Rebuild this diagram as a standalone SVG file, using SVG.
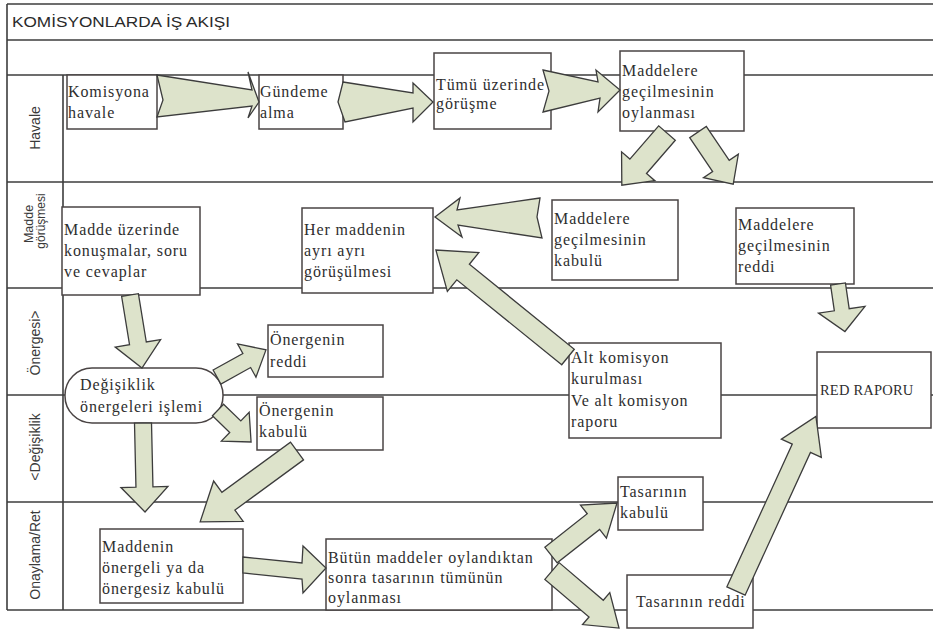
<svg xmlns="http://www.w3.org/2000/svg" width="933" height="633" viewBox="0 0 933 633">
<style>
.ln{stroke:#3d3d3d;stroke-width:1.6;fill:none}
.bx{fill:#fff;stroke:#4a4444;stroke-width:1.5}
.t{font-family:"Liberation Serif","Times New Roman",serif;font-size:16px;letter-spacing:0.9px;fill:#2e2e2e}
.lab{font-family:"Liberation Sans",Arial,sans-serif;font-size:14px;fill:#3a3a3a;text-anchor:middle}
.ar{fill:#dde3cb;stroke:#3c3c3c;stroke-width:1.3;stroke-linejoin:miter}
</style>
<rect width="933" height="633" fill="#fff"/>
<g id="lanes">
<line class="ln" x1="7" y1="4" x2="933" y2="4"/>
<line class="ln" x1="7" y1="40" x2="933" y2="40"/>
<line class="ln" x1="7" y1="75" x2="933" y2="75"/>
<line class="ln" x1="7" y1="182" x2="933" y2="182"/>
<line class="ln" x1="7" y1="288" x2="933" y2="288"/>
<line class="ln" x1="7" y1="395" x2="933" y2="395"/>
<line class="ln" x1="7" y1="502" x2="933" y2="502"/>
<line class="ln" x1="7" y1="610" x2="933" y2="610"/>
<line class="ln" x1="7" y1="4" x2="7" y2="610"/>
<line class="ln" x1="63" y1="75" x2="63" y2="610"/>
<text x="12" y="27" font-family="Liberation Sans, Arial, sans-serif" font-size="14" fill="#2a2a2a" textLength="218" lengthAdjust="spacingAndGlyphs">KOMİSYONLARDA İŞ AKIŞI</text>
<text class="lab" transform="translate(40,128) rotate(-90)">Havale</text>
<text class="lab" transform="translate(33,224) rotate(-90)" style="font-size:12.5px">Madde</text>
<text class="lab" transform="translate(45,221) rotate(-90)" style="font-size:12px">görüşmesi</text>
<text class="lab" transform="translate(40,343) rotate(-90)">Önergesi&gt;</text>
<text class="lab" transform="translate(40,447) rotate(-90)">&lt;Değişiklik</text>
<text class="lab" transform="translate(40,555) rotate(-90)">Onaylama/Ret</text>
</g>
<g id="n1"><rect class="bx" x="67" y="75" width="90" height="54"/><text class="t" x="68" y="97">Komisyona</text><text class="t" x="68" y="118">havale</text></g>
<g id="n2"><rect class="bx" x="259" y="75" width="84" height="54"/><text class="t" x="260" y="97">Gündeme</text><text class="t" x="260" y="118">alma</text></g>
<g id="n3"><rect class="bx" x="434" y="53" width="117" height="76"/><text class="t" x="436" y="90">Tümü üzerinde</text><text class="t" x="436" y="109">görüşme</text></g>
<g id="n4"><rect class="bx" x="620" y="51" width="124" height="80"/><text class="t" x="622" y="76">Maddelere</text><text class="t" x="622" y="97">geçilmesinin</text><text class="t" x="622" y="118">oylanması</text></g>
<g id="n5"><rect class="bx" x="62" y="207" width="138" height="88"/><text class="t" x="64" y="235">Madde üzerinde</text><text class="t" x="64" y="256">konuşmalar, soru</text><text class="t" x="64" y="277">ve cevaplar</text></g>
<g id="n6"><rect class="bx" x="302" y="208" width="131" height="85"/><text class="t" x="304" y="235">Her maddenin</text><text class="t" x="304" y="256">ayrı ayrı</text><text class="t" x="304" y="277">görüşülmesi</text></g>
<g id="n7"><rect class="bx" x="552" y="200" width="126" height="80"/><text class="t" x="554" y="224">Maddelere</text><text class="t" x="554" y="245">geçilmesinin</text><text class="t" x="554" y="266">kabulü</text></g>
<g id="n8"><rect class="bx" x="736" y="208" width="118" height="76"/><text class="t" x="738" y="230">Maddelere</text><text class="t" x="738" y="251">geçilmesinin</text><text class="t" x="738" y="272">reddi</text></g>
<g id="n9"><rect class="bx" x="268" y="325" width="115" height="52"/><text class="t" x="270" y="345">Önergenin</text><text class="t" x="270" y="367">reddi</text></g>
<g id="n10"><rect class="bx" x="65" y="368" width="158" height="55" rx="27" ry="27"/><text class="t" x="80" y="390">Değişiklik</text><text class="t" x="80" y="412">önergeleri işlemi</text></g>
<g id="n11"><rect class="bx" x="257" y="397" width="126" height="53"/><text class="t" x="259" y="416">Önergenin</text><text class="t" x="259" y="437">kabulü</text></g>
<g id="n12"><rect class="bx" x="569" y="343" width="152" height="95"/><text class="t" x="571" y="363">Alt komisyon</text><text class="t" x="571" y="384">kurulması</text><text class="t" x="571" y="406">Ve alt komisyon</text><text class="t" x="571" y="427">raporu</text></g>
<g id="n13"><rect class="bx" x="817" y="352" width="114" height="76"/><text class="t" x="820" y="395" style="font-size:14.5px;letter-spacing:0.2px">RED RAPORU</text></g>
<g id="n14"><rect class="bx" x="100" y="529" width="143" height="74"/><text class="t" x="102" y="552">Maddenin</text><text class="t" x="102" y="573">önergeli ya da</text><text class="t" x="102" y="594">önergesiz kabulü</text></g>
<g id="n15"><rect class="bx" x="326" y="539" width="226" height="71"/><text class="t" x="328" y="563">Bütün maddeler oylandıktan</text><text class="t" x="328" y="583">sonra tasarının tümünün</text><text class="t" x="328" y="603">oylanması</text></g>
<g id="n16"><rect class="bx" x="618" y="477" width="85" height="53"/><text class="t" x="620" y="497">Tasarının</text><text class="t" x="620" y="518">kabulü</text></g>
<g id="n17"><rect class="bx" x="627" y="575" width="126" height="53"/><text class="t" x="636" y="607">Tasarının reddi</text></g>
<g id="connectors">
<polygon class="ar" points="157,75 252,90 248,72 259,102 248,118 252,106 157,117 163,100"/>
<polygon class="ar" points="343,82 413,93 413,83 433,102 413,122 413,108 345,122 338,102"/>
<polygon class="ar" points="543,70 598,82 596,70 620,90 598,112 600,98 543,112 549,91"/>
<polygon class="ar" points="0,-11 44,-11 44,-22 69,0 44,22 44,11 0,11" transform="translate(667,133) rotate(130.9)"/>
<polygon class="ar" points="0,-10 41,-10 41,-21 63,0 41,21 41,10 0,10" transform="translate(698,132) rotate(56)"/>
<polygon class="ar" points="540,198 457,210 460,198 435,217 462,237 458,225 542,238 537,217"/>
<polygon class="ar" points="0,-10 135,-10 135,-25 170,0 135,25 135,10 0,10" transform="translate(568,357) rotate(-141)"/>
<polygon class="ar" points="0,-8.5 49,-8.5 49,-23 74,0 49,23 49,8.5 0,8.5" transform="translate(130,295) rotate(80.7)"/>
<polygon class="ar" points="0,-8 34,-8 34,-19 56,0 34,19 34,8 0,8" transform="translate(217,377) rotate(-29)"/>
<polygon class="ar" points="0,-8 24,-8 24,-20 46,0 24,20 24,8 0,8" transform="translate(218,410) rotate(44)"/>
<polygon class="ar" points="0,-8.5 64,-8.5 64,-23.5 89,0 64,23.5 64,8.5 0,8.5" transform="translate(143,423) rotate(88.7)"/>
<polygon class="ar" points="0,-11 85,-11 85,-25 120,0 85,25 85,11 0,11" transform="translate(297,451) rotate(143.8)"/>
<polygon class="ar" points="243,557 302,563 303,546 326,568 303,593 302,579 243,573"/>
<polygon class="ar" points="0,-10 54,-10 54,-21 84,0 54,21 54,10 0,10" transform="translate(551,555) rotate(-38.2)"/>
<polygon class="ar" points="0,-11 58,-11 58,-21 88,0 58,21 58,11 0,11" transform="translate(552,571) rotate(40.4)"/>
<polygon class="ar" points="0,-10 157,-10 157,-22 192,0 157,22 157,10 0,10" transform="translate(736,591) rotate(-65.4)"/>
<polygon class="ar" points="0,-7.5 26,-7.5 26,-23.5 48,0 26,23.5 26,7.5 0,7.5" transform="translate(838,284) rotate(81.7)"/>
</g>
</svg>
